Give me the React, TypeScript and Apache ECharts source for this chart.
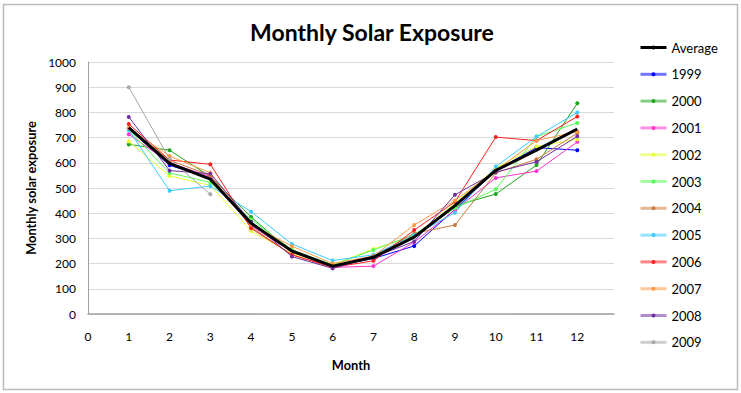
import React, { useEffect, useRef } from "react";
import * as echarts from "echarts";

const months = [1, 2, 3, 4, 5, 6, 7, 8, 9, 10, 11, 12];
const yTicks = [0, 100, 200, 300, 400, 500, 600, 700, 800, 900, 1000];

const average = [740, 598, 535, 360, 250, 190, 225, 305, 430, 570, 650, 734];
const y1999 = [735, 590, 540, 365, 245, 190, 220, 270, 415, 570, 660, 650];
const y2000 = [673, 650, 545, 385, 245, 190, 225, 310, 429, 476, 591, 836];
const y2001 = [713, 600, 545, 350, 247, 185, 190, 285, 413, 540, 567, 683];
const y2002 = [685, 548, 510, 329, 240, 195, 258, 310, 440, 580, 665, 693];
const y2003 = [730, 560, 522, 375, 255, 195, 254, 315, 420, 495, 704, 758];
const y2004 = [738, 610, 550, 345, 235, 185, 230, 320, 353, 560, 614, 718];
const y2005 = [730, 489, 508, 406, 278, 212, 235, 313, 402, 585, 704, 800];
const y2006 = [754, 611, 594, 340, 235, 185, 211, 333, 445, 702, 688, 784];
const y2007 = [738, 627, 560, 355, 269, 200, 230, 353, 450, 570, 688, 724];
const y2008 = [782, 569, 557, 366, 228, 181, 225, 288, 473, 563, 604, 705];
const y2009 = [900, 615, 475];

const years = [
  { name: "1999", data: y1999, color: "#0000FF" },
  { name: "2000", data: y2000, color: "#1FA51F" },
  { name: "2001", data: y2001, color: "#FF33CC" },
  { name: "2002", data: y2002, color: "#E6FF33" },
  { name: "2003", data: y2003, color: "#55FF55" },
  { name: "2004", data: y2004, color: "#CC7A3D" },
  { name: "2005", data: y2005, color: "#3CCBFF" },
  { name: "2006", data: y2006, color: "#FF2020" },
  { name: "2007", data: y2007, color: "#FF9944" },
  { name: "2008", data: y2008, color: "#7030A0" },
  { name: "2009", data: y2009, color: "#A6A6A6" },
];

const FONT = "Lato, 'Liberation Sans', sans-serif";

export default function App() {
  const ref = useRef<HTMLDivElement>(null);
  useEffect(() => {
    if (!ref.current) return;
    const chart = echarts.init(ref.current, undefined, { renderer: "svg" });
    const pairs = (arr: number[]) => arr.map((v, i) => [months[i], v]);
    const series: any[] = [
      {
        name: "Average",
        type: "line",
        data: pairs(average),
        symbol: "none",
        lineStyle: { color: "#000", width: 3 },
        itemStyle: { color: "#000" },
        z: 10,
      },
      ...years.map((y) => ({
        name: y.name,
        type: "line",
        data: pairs(y.data),
        symbol: "circle",
        symbolSize: 4,
        lineStyle: { color: y.color, width: 1 },
        itemStyle: { color: y.color },
      })),
    ];
    chart.setOption({
      animation: false,
      backgroundColor: "#fff",
      title: {
        text: "Monthly Solar Exposure",
        left: 367,
        textAlign: "center",
        top: 15,
        textStyle: { fontFamily: FONT, fontSize: 23, fontWeight: "bold", color: "#000" },
      },
      graphic: [
        {
          type: "rect",
          shape: { x: 3.5, y: 4.5, width: 734, height: 385 },
          style: { fill: "none", stroke: "#BBBBBB", lineWidth: 1.5 },
          silent: true,
        },
      ],
      legend: {
        orient: "vertical",
        left: 634,
        top: 36,
        itemWidth: 26,
        itemHeight: 5,
        itemGap: 13.8,
        textStyle: { fontFamily: FONT, fontSize: 13, color: "#000" },
        data: [
          { name: "Average", lineStyle: { width: 3, opacity: 1 } },
          ...years.map((y) => ({ name: y.name, lineStyle: { width: 3, opacity: 0.55 } })),
        ],
      },
      grid: { left: 88, top: 62, right: 127, bottom: 79, containLabel: false },
      xAxis: {
        type: "value",
        min: 0,
        max: 12.9,
        interval: 1,
        name: "Month",
        nameLocation: "middle",
        nameGap: 44,
        nameTextStyle: { fontFamily: FONT, fontSize: 12.8, fontWeight: "bold", color: "#000" },
        axisLine: { show: true, lineStyle: { color: "#A0A0A0", width: 1.5 } },
        axisTick: { show: false },
        splitLine: { show: false },
        axisLabel: {
          showMaxLabel: false,
          margin: 16,
          fontFamily: FONT,
          fontSize: 12,
          color: "#000",
        },
      },
      yAxis: {
        type: "value",
        min: yTicks[0],
        max: yTicks[yTicks.length - 1],
        interval: 100,
        name: "Monthly solar exposure",
        nameLocation: "middle",
        nameGap: 50,
        nameTextStyle: { fontFamily: FONT, fontSize: 12.8, fontWeight: "bold", color: "#000" },
        axisLine: { show: true, lineStyle: { color: "#A0A0A0", width: 1 } },
        axisTick: { show: false },
        splitLine: { show: true, lineStyle: { color: "#D9D9D9", width: 1 } },
        axisLabel: {
          margin: 12,
          fontFamily: FONT,
          fontSize: 12,
          color: "#000",
          formatter: (v: number) => String(v),
        },
      },
      series,
    });
    return () => chart.dispose();
  }, []);
  return (
    <div
      ref={ref}
      style={{ position: "fixed", left: 0, top: 0, width: 741, height: 393 }}
    />
  );
}
